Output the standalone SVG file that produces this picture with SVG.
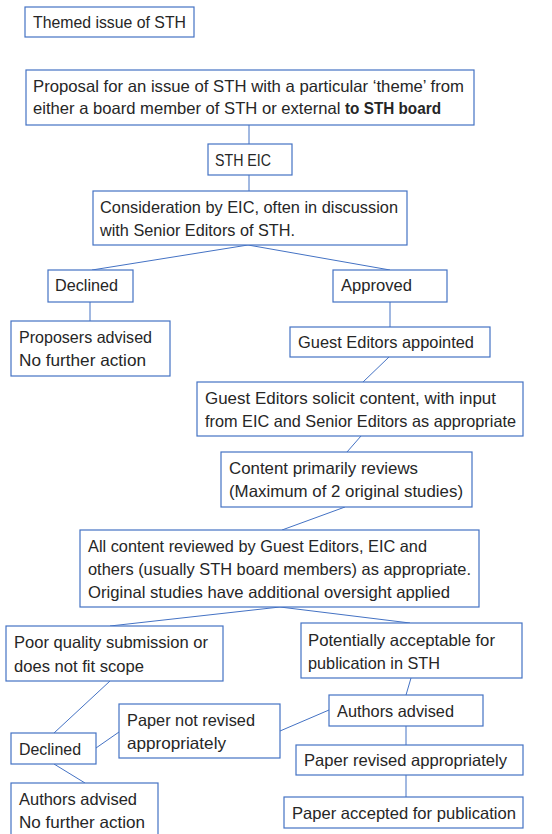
<svg xmlns="http://www.w3.org/2000/svg" width="552" height="834" viewBox="0 0 552 834">
<style>
.b{fill:#fff;stroke:#4472C4;stroke-width:1.2}
.t{font-family:"Liberation Sans",Arial,sans-serif;font-size:16.5px;fill:#262626}
.c{stroke:#4472C4;stroke-width:1;fill:none}
</style>
<rect width="552" height="834" fill="#fff"/>
<g id="connectors">
<line class="c" x1="249" y1="125" x2="249" y2="144"/>
<line class="c" x1="249" y1="175" x2="249" y2="191"/>
<line class="c" x1="248" y1="245" x2="92" y2="270"/>
<line class="c" x1="248" y1="245" x2="390" y2="270"/>
<line class="c" x1="90" y1="302" x2="90" y2="321"/>
<line class="c" x1="390" y1="302" x2="390" y2="327"/>
<line class="c" x1="389" y1="357" x2="363" y2="382"/>
<line class="c" x1="361" y1="436" x2="347" y2="452"/>
<line class="c" x1="345" y1="507" x2="282" y2="530"/>
<line class="c" x1="280" y1="607" x2="110" y2="626"/>
<line class="c" x1="280" y1="607" x2="410" y2="623"/>
<line class="c" x1="411" y1="678" x2="406" y2="695"/>
<line class="c" x1="406" y1="726" x2="406" y2="745"/>
<line class="c" x1="406" y1="775" x2="406" y2="797"/>
<line class="c" x1="329" y1="710" x2="280" y2="731"/>
<line class="c" x1="119" y1="732" x2="96" y2="748"/>
<line class="c" x1="110" y1="681" x2="54" y2="733"/>
<line class="c" x1="54" y1="764" x2="85" y2="783"/>
</g>
<g id="themed">
<rect class="b" x="25" y="7" width="169" height="30"/>
<text class="t" x="33" y="28" textLength="153" lengthAdjust="spacingAndGlyphs">Themed issue of STH</text>
</g>
<g id="proposal">
<rect class="b" x="26" y="70" width="448" height="55"/>
<text class="t" x="33" y="92" textLength="431" lengthAdjust="spacingAndGlyphs">Proposal for an issue of STH with a particular ‘theme’ from</text>
<text class="t" y="114"><tspan x="33" textLength="312" lengthAdjust="spacingAndGlyphs">either a board member of STH or external </tspan><tspan x="345" font-weight="bold" textLength="96" lengthAdjust="spacingAndGlyphs">to STH board</tspan></text>
</g>
<g id="eic">
<rect class="b" x="208" y="144" width="84" height="31"/>
<text class="t" x="215" y="166" textLength="56" lengthAdjust="spacingAndGlyphs">STH EIC</text>
</g>
<g id="consideration">
<rect class="b" x="93" y="191" width="314" height="54"/>
<text class="t" x="100" y="213" textLength="298" lengthAdjust="spacingAndGlyphs">Consideration by EIC, often in discussion</text>
<text class="t" x="100" y="236" textLength="195" lengthAdjust="spacingAndGlyphs">with Senior Editors of STH.</text>
</g>
<g id="declined1">
<rect class="b" x="48" y="270" width="85" height="32"/>
<text class="t" x="55" y="291" textLength="63" lengthAdjust="spacingAndGlyphs">Declined</text>
</g>
<g id="approved">
<rect class="b" x="333" y="270" width="114" height="32"/>
<text class="t" x="341" y="291" textLength="71" lengthAdjust="spacingAndGlyphs">Approved</text>
</g>
<g id="proposers">
<rect class="b" x="11" y="321" width="159" height="55"/>
<text class="t" x="19" y="343" textLength="133" lengthAdjust="spacingAndGlyphs">Proposers advised</text>
<text class="t" x="19" y="366" textLength="127" lengthAdjust="spacingAndGlyphs">No further action</text>
</g>
<g id="appointed">
<rect class="b" x="290" y="327" width="200" height="30"/>
<text class="t" x="298" y="348" textLength="176" lengthAdjust="spacingAndGlyphs">Guest Editors appointed</text>
</g>
<g id="solicit">
<rect class="b" x="197" y="382" width="326" height="54"/>
<text class="t" x="205" y="404" textLength="291" lengthAdjust="spacingAndGlyphs">Guest Editors solicit content, with input</text>
<text class="t" x="205" y="427" textLength="311" lengthAdjust="spacingAndGlyphs">from EIC and Senior Editors as appropriate</text>
</g>
<g id="content">
<rect class="b" x="221" y="452" width="251" height="55"/>
<text class="t" x="229" y="474" textLength="189" lengthAdjust="spacingAndGlyphs">Content primarily reviews</text>
<text class="t" x="229" y="497" textLength="234" lengthAdjust="spacingAndGlyphs">(Maximum of 2 original studies)</text>
</g>
<g id="allcontent">
<rect class="b" x="80" y="530" width="399" height="77"/>
<text class="t" x="88" y="552" textLength="339" lengthAdjust="spacingAndGlyphs">All content reviewed by Guest Editors, EIC and</text>
<text class="t" x="88" y="575" textLength="383" lengthAdjust="spacingAndGlyphs">others (usually STH board members) as appropriate.</text>
<text class="t" x="88" y="598" textLength="362" lengthAdjust="spacingAndGlyphs">Original studies have additional oversight applied</text>
</g>
<g id="poor">
<rect class="b" x="6" y="626" width="217" height="55"/>
<text class="t" x="14" y="648" textLength="194" lengthAdjust="spacingAndGlyphs">Poor quality submission or</text>
<text class="t" x="14" y="672" textLength="130" lengthAdjust="spacingAndGlyphs">does not fit scope</text>
</g>
<g id="potentially">
<rect class="b" x="301" y="623" width="221" height="55"/>
<text class="t" x="308" y="646" textLength="187" lengthAdjust="spacingAndGlyphs">Potentially acceptable for</text>
<text class="t" x="308" y="669" textLength="132" lengthAdjust="spacingAndGlyphs">publication in STH</text>
</g>
<g id="authorsRight">
<rect class="b" x="329" y="695" width="154" height="31"/>
<text class="t" x="337" y="717" textLength="117" lengthAdjust="spacingAndGlyphs">Authors advised</text>
</g>
<g id="notRevised">
<rect class="b" x="119" y="704" width="161" height="54"/>
<text class="t" x="127" y="726" textLength="128" lengthAdjust="spacingAndGlyphs">Paper not revised</text>
<text class="t" x="127" y="749" textLength="99" lengthAdjust="spacingAndGlyphs">appropriately</text>
</g>
<g id="declined2">
<rect class="b" x="11" y="733" width="85" height="31"/>
<text class="t" x="19" y="755" textLength="62" lengthAdjust="spacingAndGlyphs">Declined</text>
</g>
<g id="revised">
<rect class="b" x="296" y="745" width="227" height="30"/>
<text class="t" x="304" y="766" textLength="203" lengthAdjust="spacingAndGlyphs">Paper revised appropriately</text>
</g>
<g id="accepted">
<rect class="b" x="284" y="797" width="239" height="31"/>
<text class="t" x="292" y="819" textLength="224" lengthAdjust="spacingAndGlyphs">Paper accepted for publication</text>
</g>
<g id="authorsLeft">
<rect class="b" x="11" y="783" width="147" height="60"/>
<text class="t" x="19" y="805" textLength="118" lengthAdjust="spacingAndGlyphs">Authors advised</text>
<text class="t" x="19" y="828" textLength="126" lengthAdjust="spacingAndGlyphs">No further action</text>
</g>
</svg>
